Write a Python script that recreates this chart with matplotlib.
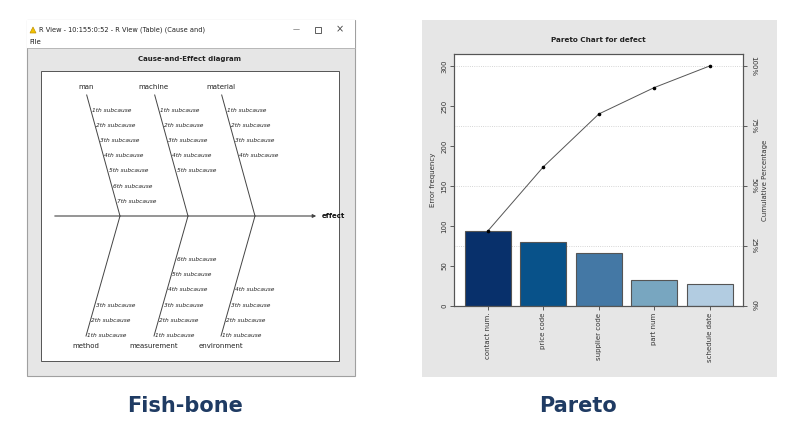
import matplotlib
matplotlib.use("Agg")
import matplotlib.pyplot as plt
from matplotlib.patches import Rectangle, Polygon
import numpy as np

# Pareto data
categories = ["contact num.", "price code", "supplier code", "part num", "schedule date"]
counts = [94, 80, 66, 33, 27]
bar_colors = ["#08306B", "#08528A", "#4478A5", "#78A6C0", "#B2CCE1"]
y_ticks = [0, 50, 100, 150, 200, 250, 300]
pct_ticks = [0, 25, 50, 75, 100]

# Fishbone data
upper_causes = ["man", "machine", "material"]
upper_counts = [7, 5, 4]
lower_causes = ["method", "measurement", "environment"]
lower_counts = [3, 6, 4]
effect_label = "effect"

W, H = 801, 438
fig = plt.figure(figsize=(W/100, H/100), dpi=100)
fig.patch.set_facecolor("white")
bg = fig.add_axes([0, 0, 1, 1])
bg.set_xlim(0, W); bg.set_ylim(H, 0); bg.axis("off")

# ---------- Fishbone window ----------
bg.add_patch(Rectangle((27, 20), 328, 356, facecolor="#E6E6E6", edgecolor="#A0A0A0", lw=0.8))
bg.add_patch(Rectangle((27, 20), 328, 28, facecolor="white", edgecolor="none"))
bg.add_patch(Polygon([[30, 33], [36, 33], [33, 27]], closed=True, facecolor="#F2C200", edgecolor="#C09000", lw=0.5))
bg.text(39, 29.5, "R View - 10:155:0:52 - R View (Table) (Cause and)", fontsize=4.8, va="center", color="#222")
bg.text(296, 29.5, "—", fontsize=5, va="center", ha="center", color="#444")
bg.add_patch(Rectangle((315, 26.5), 6, 6, facecolor="none", edgecolor="#444", lw=0.6))
bg.text(340, 29.5, "×", fontsize=7, va="center", ha="center", color="#444")
bg.text(29, 42, "File", fontsize=5, va="center", color="#222")
bg.plot([27, 355], [48, 48], color="#B0B0B0", lw=0.6)
bg.text(190, 59, "Cause-and-Effect diagram", fontsize=5, fontweight="bold", ha="center", va="center", color="#222")
bg.add_patch(Rectangle((41, 71), 298, 290, facecolor="white", edgecolor="#555", lw=0.7))

spine_y = 216
bg.annotate("", xy=(319, spine_y), xytext=(52, spine_y),
            arrowprops=dict(arrowstyle="-|>", color="#444", lw=0.8, mutation_scale=5))
bg.text(322, spine_y, effect_label, fontsize=5, fontweight="bold", va="center", color="#111")
joints = [120, 188, 255]
dx_up, dx_dn = 33.3, 34
for i, j in enumerate(joints):
    tx = j - dx_up
    bg.plot([tx, j], [95, spine_y], color="#444", lw=0.7)
    bg.text(tx - 1, 87, upper_causes[i], fontsize=5, ha="center", va="center", color="#222")
    for k in range(upper_counts[i]):
        y = 110 + 15.2 * k
        x = tx + (y - 95) * dx_up / (spine_y - 95)
        bg.text(x + 1, y, f"{k+1}th subcause", fontsize=4.2, style="italic", va="center", color="#222")
    bx = j - dx_dn
    bg.plot([j, bx], [spine_y, 336], color="#444", lw=0.7)
    bg.text(bx, 346, lower_causes[i], fontsize=5, ha="center", va="center", color="#222")
    for k in range(lower_counts[i]):
        y = 335.5 - 15.2 * k
        x = j - (y - spine_y) * dx_dn / (336 - spine_y)
        bg.text(x + 1, y, f"{k+1}th subcause", fontsize=4.2, style="italic", va="center", color="#222")

# ---------- Pareto panel ----------
bg.add_patch(Rectangle((422, 20), 355, 357, facecolor="#E6E6E6", edgecolor="none"))
bg.text(598, 40, "Pareto Chart for defect", fontsize=5.2, fontweight="bold", ha="center", va="center", color="#222")

x0, x1, y0, y1 = 454.3, 743.3, 54.3, 306
ax = fig.add_axes([x0/W, 1 - y1/H, (x1-x0)/W, (y1-y0)/H])
ax.set_facecolor("white")
ymax = 314.6
xs = np.arange(len(categories))
ax.bar(xs, counts, width=0.83, color=bar_colors, edgecolor="#555", lw=0.8, zorder=2)
cum = np.cumsum(counts)
total = cum[-1]
ax.plot(xs, cum, color="#555", lw=0.7, marker="o", ms=1.6, mfc="black", mec="black", zorder=3)
ax.set_xlim(-0.608, 4.607); ax.set_ylim(0, ymax)
for p in pct_ticks[1:]:
    ax.axhline(p / 100 * total, color="#C8C8C8", lw=0.6, ls=":", zorder=1)
ax.set_yticks(y_ticks)
ax.set_yticklabels([str(v) for v in y_ticks], rotation=90, va="center", fontsize=5, color="#333")
ax.set_xticks(xs)
ax.set_xticklabels(categories, rotation=90, fontsize=5, color="#333")
ax.tick_params(length=3, width=0.6, colors="#444", labelcolor="#333", pad=2)
ax.set_ylabel("Error frequency", fontsize=5, color="#333", labelpad=4)
ax2 = ax.twinx()
ax2.set_ylim(0, ymax)
ax2.set_yticks([p / 100 * total for p in pct_ticks])
ax2.set_yticklabels([f"{p}%" for p in pct_ticks], rotation=-90, va="center", fontsize=5, color="#333")
ax2.tick_params(length=3, width=0.6, colors="#444", labelcolor="#333", pad=2)
ax2.set_ylabel("Cumulative Percentage", fontsize=5, color="#333", rotation=90, labelpad=4)
for a in (ax, ax2):
    for s in a.spines.values():
        s.set_color("#555"); s.set_linewidth(0.8)

# ---------- captions ----------
bg.text(185, 406, "Fish-bone", fontsize=15, fontweight="bold", ha="center", va="center", color="#1F3B63")
bg.text(578, 406, "Pareto", fontsize=15, fontweight="bold", ha="center", va="center", color="#1F3B63")

fig.savefig("out.png", dpi=100)
